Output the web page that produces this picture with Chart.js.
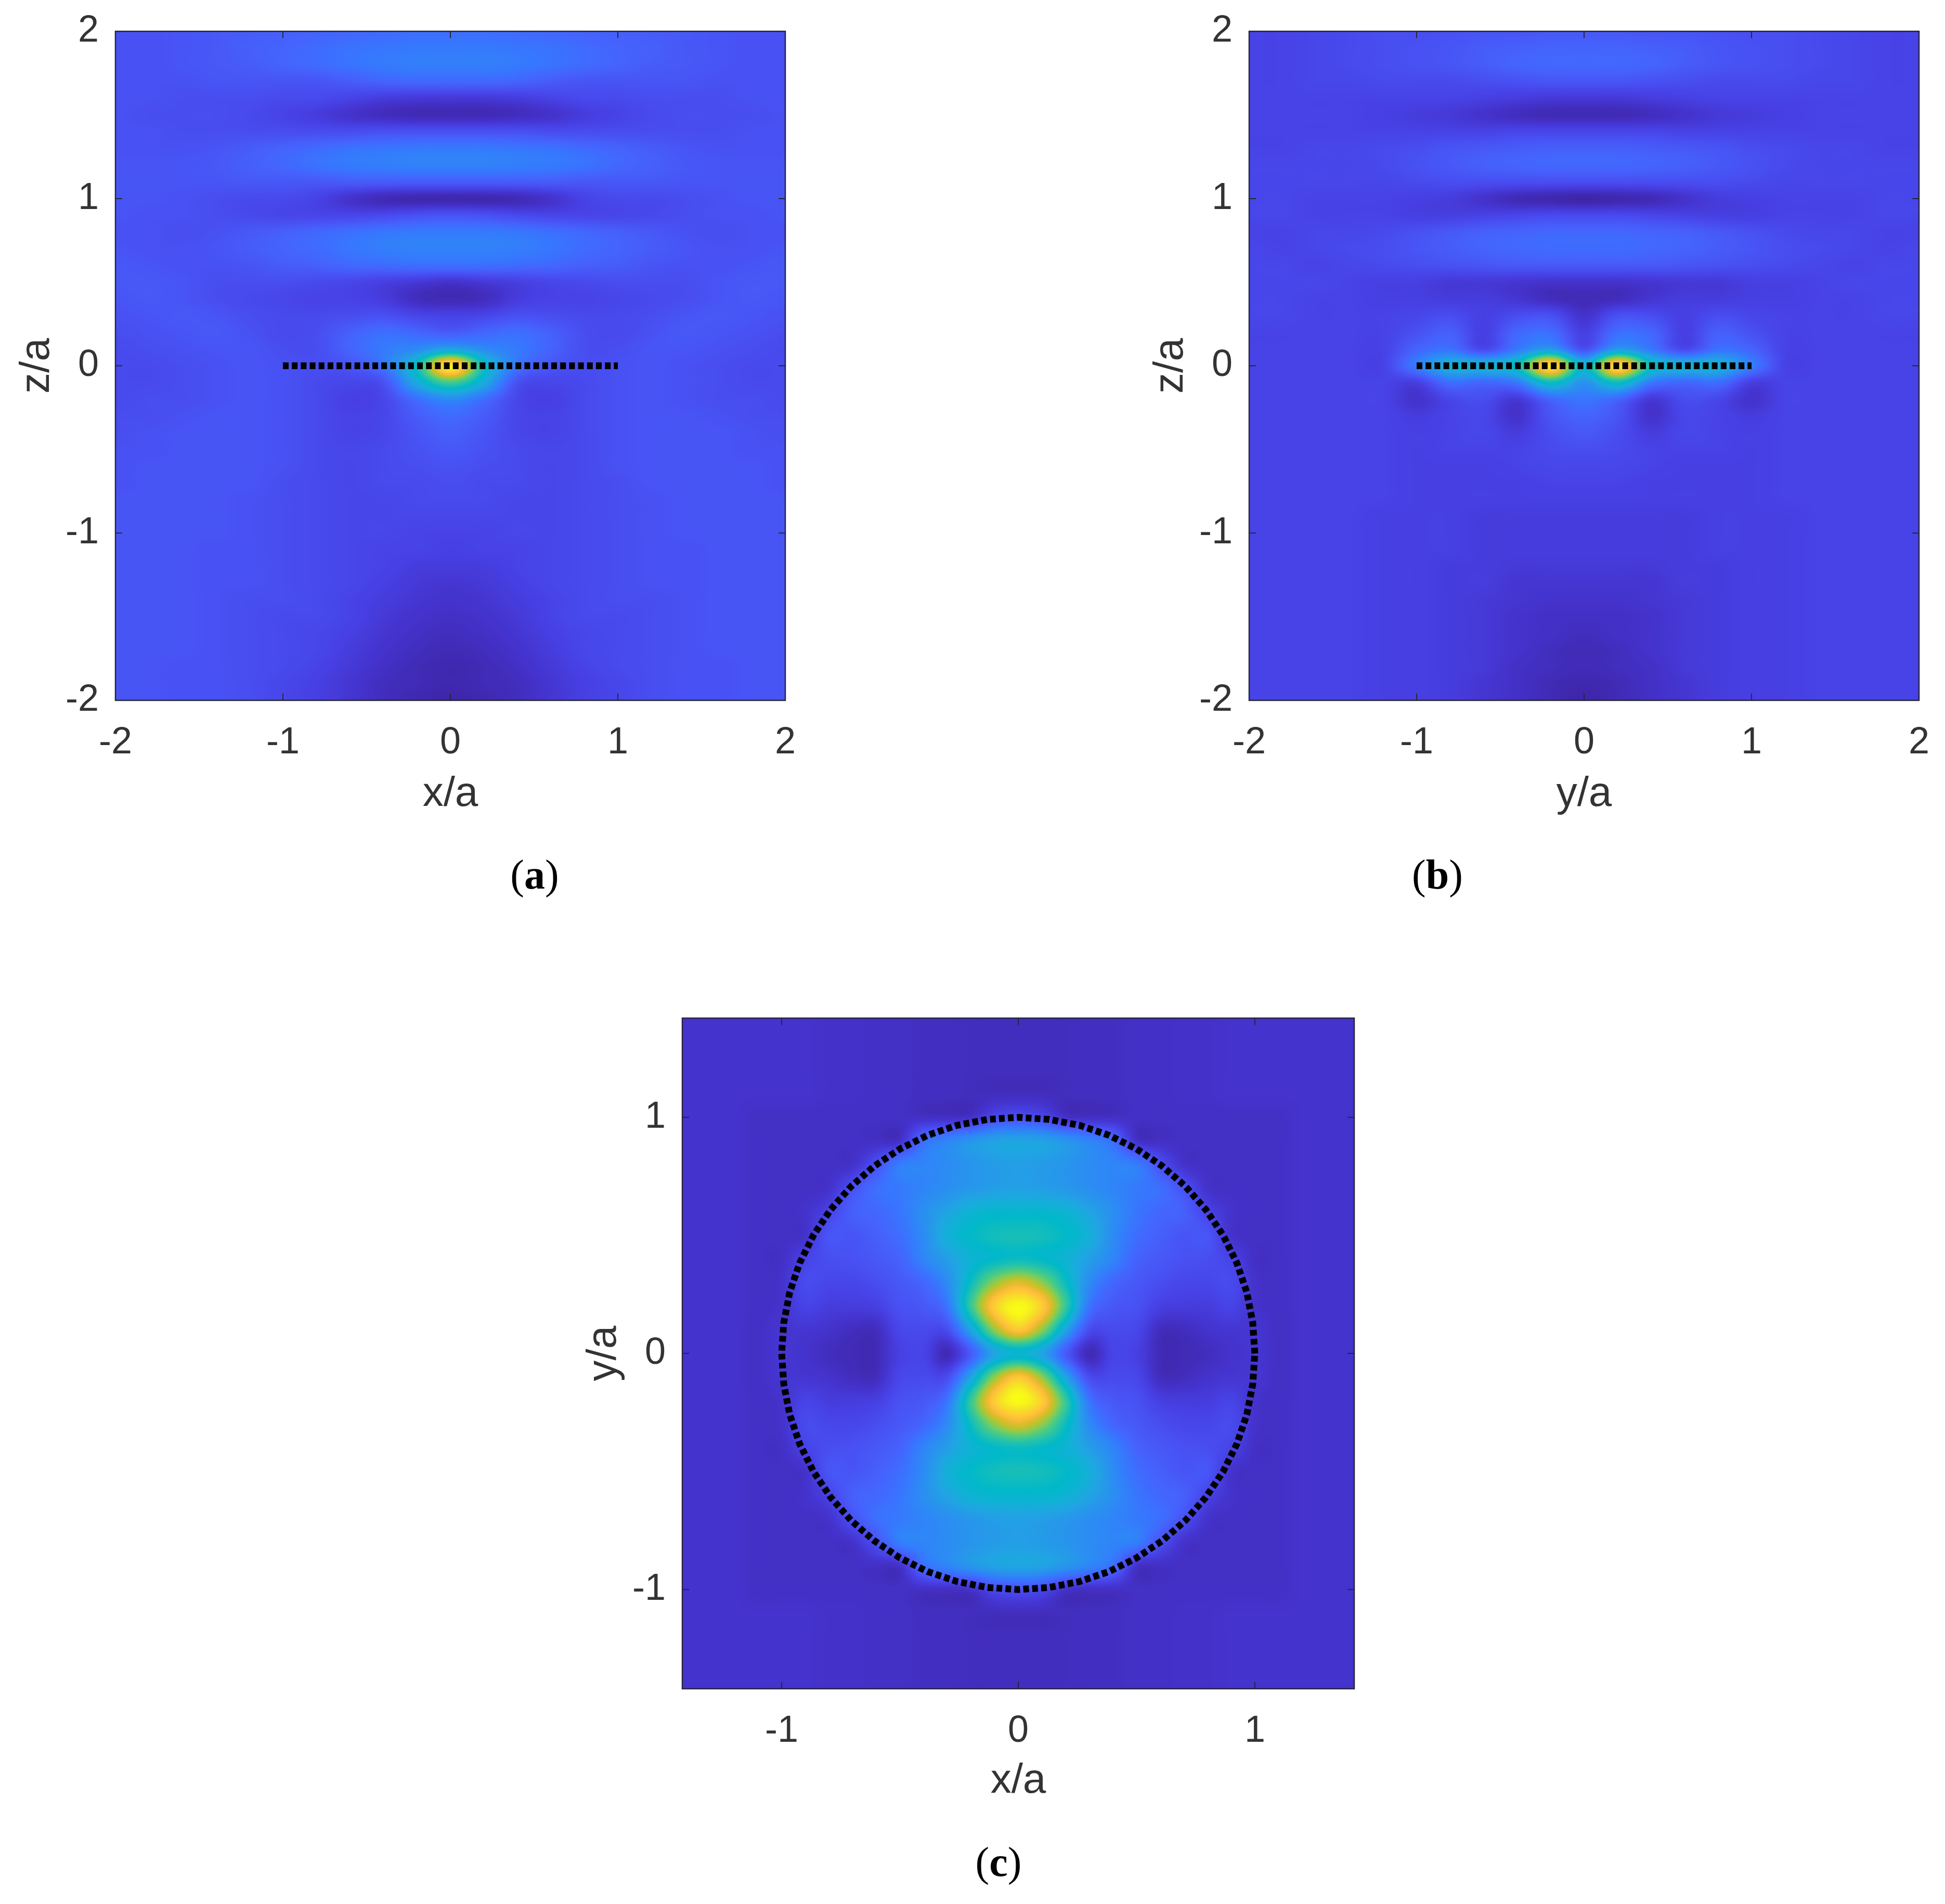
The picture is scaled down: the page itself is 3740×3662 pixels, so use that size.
<!DOCTYPE html>
<html>
<head>
<meta charset="utf-8">
<title>Field maps</title>
<script src="https://cdn.jsdelivr.net/npm/chart.js@4/dist/chart.umd.min.js"></script>
<style>
html,body{margin:0;padding:0;background:#fff;}
body{position:relative;width:3740px;height:3662px;overflow:hidden;}
canvas{position:absolute;}
.cap{position:absolute;transform:translate(-50%,-50%);font-family:"Liberation Serif",serif;font-size:80px;color:#000;white-space:nowrap;}
.cap b{font-weight:bold;}
</style>
</head>
<body>
<canvas id="chartA" style="left:0;top:-15px"></canvas>
<canvas id="chartB" style="left:2180px;top:-15px"></canvas>
<canvas id="chartC" style="left:1090px;top:1883px"></canvas>
<div class="cap" style="left:1028px;top:1682px">(<b>a</b>)</div>
<div class="cap" style="left:2764px;top:1682px">(<b>b</b>)</div>
<div class="cap" style="left:1920px;top:3581px">(<b>c</b>)</div>
<script>
// tick labels
const ticksAB = [-2,-1,0,1,2];
const ticksC = [-1,0,1];

// grid coordinates, a and b: step 0.2 across, 0.1 down
const colsAB = [-2,-1.8,-1.6,-1.4,-1.2,-1,-0.8,-0.6,-0.4,-0.2,0,0.2,0.4,0.6,0.8,1,1.2,1.4,1.6,1.8,2];
const rowsAB = [2,1.9,1.8,1.7,1.6,1.5,1.4,1.3,1.2,1.1,1,0.9,0.8,0.7,0.6,0.5,0.4,0.3,0.2,0.1,0,-0.1,-0.2,-0.3,-0.4,-0.5,-0.6,-0.7,-0.8,-0.9,-1,-1.1,-1.2,-1.3,-1.4,-1.5,-1.6,-1.7,-1.8,-1.9,-2];
const colsC = [-1.4,-1.3,-1.2,-1.1,-1,-0.9,-0.8,-0.7,-0.6,-0.5,-0.4,-0.3,-0.2,-0.1,0,0.1,0.2,0.3,0.4,0.5,0.6,0.7,0.8,0.9,1,1.1,1.2,1.3,1.4];
const rowsC = [1.4,1.3,1.2,1.1,1,0.9,0.8,0.7,0.6,0.5,0.4,0.3,0.2,0.1,0,-0.1,-0.2,-0.3,-0.4,-0.5,-0.6,-0.7,-0.8,-0.9,-1,-1.1,-1.2,-1.3,-1.4];

// field, percent of colour range
const fieldA = [
[14,14,15,16,17,18,19,20,21,22,22,22,21,20,19,18,17,16,15,14,14],
[14,14,15,16,18,19,21,23,24,25,25,25,24,23,21,19,18,16,15,14,14],
[14,14,15,16,17,19,21,23,25,26,26,26,25,23,21,19,17,16,15,14,14],
[14,14,14,15,15,15,15,17,19,20,20,20,19,17,15,15,15,15,14,14,14],
[14,14,13,13,13,12,12,10,8,7,7,7,8,10,12,12,13,13,13,14,14],
[14,13,13,13,12,10,8,5,3,2,2,2,3,5,8,10,12,13,13,13,14],
[14,14,13,13,13,13,13,13,14,14,14,14,14,13,13,13,13,13,13,14,14],
[14,14,14,15,17,19,21,23,24,25,25,25,24,23,21,19,17,15,14,14,14],
[15,15,15,16,18,20,23,25,26,27,27,27,26,25,23,20,18,16,15,15,15],
[15,15,15,15,16,16,16,17,17,17,17,17,17,17,16,16,16,15,15,15,15],
[15,15,14,13,12,12,10,5,2,1,1,1,2,5,10,12,12,13,14,15,15],
[15,14,14,13,12,11,11,11,12,14,15,14,12,11,11,11,12,13,14,14,15],
[14,14,13,14,16,18,20,22,24,25,25,25,24,22,20,18,16,14,13,14,14],
[15,14,14,15,17,19,21,24,26,27,27,27,26,24,21,19,17,15,14,14,15],
[16,15,14,14,15,17,18,20,21,22,22,22,21,20,18,17,15,14,14,15,16],
[16,16,15,13,13,13,12,11,9,7,5,7,9,11,12,13,13,13,15,16,16],
[15,16,15,13,12,11,10,10,8,3,2,3,8,10,10,11,12,13,15,16,15],
[14,15,16,15,13,12,12,13,14,11,10,11,14,13,12,12,13,15,16,15,14],
[13,14,15,16,14,12,13,18,22,20,17,20,22,18,13,12,14,16,15,14,13],
[12,13,14,15,15,13,13,19,25,30,38,30,25,19,13,13,15,15,14,13,12],
[12,12,13,14,15,14,13,15,24,50,98,50,24,15,13,14,15,14,13,12,12],
[12,12,13,14,15,14,12,11,14,40,60,40,14,11,12,14,15,14,13,12,12],
[12,13,13,14,15,14,12,9,11,22,30,22,11,9,12,14,15,14,13,13,12],
[13,13,14,15,15,14,12,10,11,17,21,17,11,10,12,14,15,15,14,13,13],
[13,14,15,15,15,14,12,10,11,15,18,15,11,10,12,14,15,15,15,14,13],
[14,14,15,15,15,14,12,11,12,14,16,14,12,11,12,14,15,15,15,14,14],
[14,15,15,15,15,14,12,11,12,13,14,13,12,11,12,14,15,15,15,15,14],
[14,15,15,15,15,13,12,11,12,12,13,12,12,11,12,13,15,15,15,15,14],
[15,15,15,15,14,13,12,11,11,12,12,12,11,11,12,13,14,15,15,15,15],
[15,15,15,15,14,13,12,11,11,11,11,11,11,11,12,13,14,15,15,15,15],
[15,15,15,15,14,13,12,11,11,10,10,10,11,11,12,13,14,15,15,15,15],
[15,15,15,14,14,13,12,11,10,10,9,10,10,11,12,13,14,14,15,15,15],
[15,15,15,14,14,13,12,11,10,8,8,8,10,11,12,13,14,14,15,15,15],
[15,15,15,14,14,13,12,11,9,7,6,7,9,11,12,13,14,14,15,15,15],
[15,15,15,14,13,13,12,10,8,6,5,6,8,10,12,13,13,14,15,15,15],
[15,15,15,14,13,12,12,10,7,5,4,5,7,10,12,12,13,14,15,15,15],
[15,15,15,14,13,12,11,9,6,4,3,4,6,9,11,12,13,14,15,15,15],
[15,15,15,14,13,12,11,8,5,3,2,3,5,8,11,12,13,14,15,15,15],
[15,15,14,14,13,12,10,7,4,2,1,2,4,7,10,12,13,14,14,15,15],
[15,15,14,14,13,11,9,6,3,2,1,2,3,6,9,11,13,14,14,15,15],
[15,15,14,14,13,11,9,6,3,1,0,1,3,6,9,11,13,14,14,15,15]
];

// field
const fieldB = [
[10,10,11,12,13,13,14,15,15,16,16,16,15,15,14,13,13,12,11,10,10],
[10,10,11,12,13,14,15,17,18,19,19,19,18,17,15,14,13,12,11,10,10],
[10,10,11,12,13,14,15,17,19,20,20,20,19,17,15,14,13,12,11,10,10],
[10,10,11,11,12,12,12,13,14,15,15,15,14,13,12,12,12,11,11,10,10],
[10,10,10,10,10,10,10,9,8,7,7,7,8,9,10,10,10,10,10,10,10],
[10,10,10,10,9,8,7,5,3,2,2,2,3,5,7,8,9,10,10,10,10],
[10,10,10,10,10,10,10,10,11,11,11,11,11,10,10,10,10,10,10,10,10],
[10,10,11,11,12,13,15,16,17,18,18,18,17,16,15,13,12,11,11,10,10],
[11,11,11,11,12,14,16,18,19,20,20,20,19,18,16,14,12,11,11,11,11],
[11,11,11,11,11,12,13,13,13,13,13,13,13,13,13,12,11,11,11,11,11],
[11,11,10,10,10,9,8,5,2,1,0,1,2,5,8,9,10,10,10,11,11],
[11,11,10,10,10,9,9,10,11,12,12,12,11,10,9,9,10,10,10,11,11],
[10,10,11,11,12,14,16,18,19,20,20,20,19,18,16,14,12,11,11,10,10],
[11,10,11,12,13,15,17,19,20,21,21,21,20,19,17,15,13,12,11,10,11],
[11,11,10,11,12,13,14,15,16,16,16,16,16,15,14,13,12,11,10,11,11],
[11,11,11,10,9,9,7,7,6,5,5,5,6,7,7,9,9,10,11,11,11],
[11,11,10,10,9,9,8,8,6,3,2,3,6,8,8,9,9,10,10,11,11],
[11,11,10,10,10,11,13,9,13,14,5,14,13,9,13,11,10,10,10,11,11],
[10,10,10,10,10,14,18,9,20,22,9,22,20,9,18,14,10,10,10,10,10],
[10,10,10,10,10,19,23,12,25,35,14,35,25,12,23,19,10,10,10,10,10],
[10,10,10,10,10,26,42,42,50,95,45,95,50,42,42,26,10,10,10,10,10],
[10,10,10,10,10,9,22,20,25,50,32,50,25,20,22,9,10,10,10,10,10],
[10,10,10,10,10,5,11,13,7,20,24,20,7,13,11,5,10,10,10,10,10],
[10,10,10,10,10,8,10,11,5,15,19,15,5,11,10,8,10,10,10,10,10],
[10,10,10,10,10,9,10,11,8,13,16,13,8,11,10,9,10,10,10,10,10],
[10,10,10,10,10,9,10,10,10,12,13,12,10,10,10,9,10,10,10,10,10],
[10,10,10,10,10,9,9,9,10,11,11,11,10,9,9,9,10,10,10,10,10],
[10,10,10,10,10,9,9,9,9,10,10,10,9,9,9,9,10,10,10,10,10],
[10,10,10,10,10,9,9,9,9,9,9,9,9,9,9,9,10,10,10,10,10],
[10,10,10,10,9,9,9,8,8,8,8,8,8,8,9,9,9,10,10,10,10],
[10,10,10,10,9,9,9,8,8,8,8,8,8,8,9,9,9,10,10,10,10],
[10,10,10,10,9,9,9,8,8,8,8,8,8,8,9,9,9,10,10,10,10],
[10,10,10,10,9,9,8,8,7,7,7,7,7,8,8,9,9,10,10,10,10],
[10,10,10,10,9,9,8,8,6,6,6,6,6,8,8,9,9,10,10,10,10],
[10,10,10,10,9,9,8,7,6,5,5,5,6,7,8,9,9,10,10,10,10],
[10,10,10,10,9,9,8,7,5,4,4,4,5,7,8,9,9,10,10,10,10],
[10,10,10,10,9,9,8,7,5,4,3,4,5,7,8,9,9,10,10,10,10],
[10,10,10,10,9,9,8,7,5,3,2,3,5,7,8,9,9,10,10,10,10],
[10,10,10,10,9,9,8,7,4,3,2,3,4,7,8,9,9,10,10,10,10],
[10,10,10,10,9,9,8,6,4,2,1,2,4,6,8,9,9,10,10,10,10],
[10,10,10,10,9,9,8,6,4,2,0,2,4,6,8,9,9,10,10,10,10]
];

// field
const fieldC = [
[5,5,5,5,5,5,4.5,4.5,4,4,3.5,3.5,3,3,3,3,3,3.5,3.5,4,4,4.5,4.5,5,5,5,5,5,5],
[5,5,5,5,5,5,4.5,4.5,4,4,3.5,3.5,3,3,3,3,3,3.5,3.5,4,4,4.5,4.5,5,5,5,5,5,5],
[5,5,5,5,5,5,4.5,4.5,4,4,3.5,3.5,3,3,3,3,3,3.5,3.5,4,4,4.5,4.5,5,5,5,5,5,5],
[5,5,5,5,5,5,4.5,4.5,4,4,3.5,3.5,3,3,3,3,3,3.5,3.5,4,4,4.5,4.5,5,5,5,5,5,5],
[5,5,5,4,4,4,4,4,4,4,4,4,5,12,14,12,5,4,4,4,4,4,4,4,4,4,5,5,5],
[5,5,5,4,4,4,4,4,4,5,22,28,33,37,38,37,33,28,22,5,4,4,4,4,4,4,5,5,5],
[5,5,5,4,4,4,4,5,14,26,28,30,33,35,36,35,33,30,28,26,14,5,4,4,4,4,5,5,5],
[5,5,5,4,4,4,5,14,22,25,28,31,34,36,37,36,34,31,28,25,22,14,5,4,4,4,5,5,5],
[5,5,5,4,4,5,10,18,20,24,31,38,44,46,46,46,44,38,31,24,20,18,10,5,4,4,5,5,5],
[5,5,5,4,4,5,15,15,18,22,30,42,48,51,52,51,48,42,30,22,18,15,15,5,4,4,5,5,5],
[5,5,5,4,4,10,13,14,16,19,28,36,44,48,50,48,44,36,28,19,16,14,13,10,4,4,5,5,5],
[5,5,5,4,5,12,11,11,13,16,20,30,50,70,80,70,50,30,20,16,13,11,11,12,5,4,5,5,5],
[5,5,5,4,5,10,8,8,9,14,16,24,58,90,100,90,58,24,16,14,9,8,8,10,5,4,5,5,5],
[5,5,5,4,6,6,5,3,3,11,12,13,38,70,88,70,38,13,12,11,3,3,5,6,6,4,5,5,5],
[5,5,5,4,6,5,3,2,2,9,10,2,17,38,45,38,17,2,10,9,2,2,3,5,6,4,5,5,5],
[5,5,5,4,6,6,5,3,3,11,12,13,38,70,88,70,38,13,12,11,3,3,5,6,6,4,5,5,5],
[5,5,5,4,5,10,8,8,9,14,16,24,58,90,100,90,58,24,16,14,9,8,8,10,5,4,5,5,5],
[5,5,5,4,5,12,11,11,13,16,20,30,50,70,80,70,50,30,20,16,13,11,11,12,5,4,5,5,5],
[5,5,5,4,4,10,13,14,16,19,28,36,44,48,50,48,44,36,28,19,16,14,13,10,4,4,5,5,5],
[5,5,5,4,4,5,15,15,18,22,30,42,48,51,52,51,48,42,30,22,18,15,15,5,4,4,5,5,5],
[5,5,5,4,4,5,10,18,20,24,31,38,44,46,46,46,44,38,31,24,20,18,10,5,4,4,5,5,5],
[5,5,5,4,4,4,5,14,22,25,28,31,34,36,37,36,34,31,28,25,22,14,5,4,4,4,5,5,5],
[5,5,5,4,4,4,4,5,14,26,28,30,33,35,36,35,33,30,28,26,14,5,4,4,4,4,5,5,5],
[5,5,5,4,4,4,4,4,4,5,22,28,33,37,38,37,33,28,22,5,4,4,4,4,4,4,5,5,5],
[5,5,5,4,4,4,4,4,4,4,4,4,5,12,14,12,5,4,4,4,4,4,4,4,4,4,5,5,5],
[5,5,5,5,5,5,4.5,4.5,4,4,3.5,3.5,3,3,3,3,3,3.5,3.5,4,4,4.5,4.5,5,5,5,5,5,5],
[5,5,5,5,5,5,4.5,4.5,4,4,3.5,3.5,3,3,3,3,3,3.5,3.5,4,4,4.5,4.5,5,5,5,5,5,5],
[5,5,5,5,5,5,4.5,4.5,4,4,3.5,3.5,3,3,3,3,3,3.5,3.5,4,4,4.5,4.5,5,5,5,5,5,5],
[5,5,5,5,5,5,4.5,4.5,4,4,3.5,3.5,3,3,3,3,3,3.5,3.5,4,4,4.5,4.5,5,5,5,5,5,5]
];

// dotted probe lines
const lineX = [-1,1];
const lineZ = [0,0];
const circleX = [1,0.991,0.966,0.924,0.866,0.793,0.707,0.609,0.5,0.383,0.259,0.131,0,-0.131,-0.259,-0.383,-0.5,-0.609,-0.707,-0.793,-0.866,-0.924,-0.966,-0.991,-1,-0.991,-0.966,-0.924,-0.866,-0.793,-0.707,-0.609,-0.5,-0.383,-0.259,-0.131,0,0.131,0.259,0.383,0.5,0.609,0.707,0.793,0.866,0.924,0.966,0.991,1];
const circleY = [0,0.131,0.259,0.383,0.5,0.609,0.707,0.793,0.866,0.924,0.966,0.991,1,0.991,0.966,0.924,0.866,0.793,0.707,0.609,0.5,0.383,0.259,0.131,0,-0.131,-0.259,-0.383,-0.5,-0.609,-0.707,-0.793,-0.866,-0.924,-0.966,-0.991,-1,-0.991,-0.966,-0.924,-0.866,-0.793,-0.707,-0.609,-0.5,-0.383,-0.259,-0.131,0];

// parula
const parula = [[62,38,168],[68,50,203],[71,65,229],[72,82,244],[69,99,253],[56,117,254],[46,135,247],[39,150,235],[32,165,227],[18,177,214],[1,184,202],[25,191,182],[49,198,159],[74,203,132],[114,205,100],[157,201,67],[197,194,42],[230,187,45],[254,190,60],[252,207,48],[245,227,39],[249,251,21]];

function colourAt(v){
  let p = Math.max(0,Math.min(1,v))*(parula.length-1);
  let i = Math.min(parula.length-2,Math.floor(p));
  let t = p-i;
  return [0,1,2].map(k=>parula[i][k]+(parula[i+1][k]-parula[i][k])*t);
}

function cubic(a,b,c,d,t){
  return b+0.5*t*(c-a+t*(2*a-5*b+4*c-d+t*(3*(b-c)+d-a)));
}

function sampleField(grid,fx,fy){
  let nr = grid.length, nc = grid[0].length;
  let ix = Math.floor(fx), iy = Math.floor(fy);
  let tx = fx-ix, ty = fy-iy;
  let vals = [];
  for(let r=-1;r<=2;r++){
    let row = grid[Math.max(0,Math.min(nr-1,iy+r))];
    vals.push(cubic(
      row[Math.max(0,Math.min(nc-1,ix-1))],
      row[Math.max(0,Math.min(nc-1,ix))],
      row[Math.max(0,Math.min(nc-1,ix+1))],
      row[Math.max(0,Math.min(nc-1,ix+2))],tx));
  }
  return cubic(vals[0],vals[1],vals[2],vals[3],ty)/100;
}

// paints the field under the datasets, pixel by pixel through the scales
const heatPlugin = {
  id:"heat",
  beforeDatasetsDraw(chart,args,opts){
    let area = chart.chartArea;
    let sx = chart.scales.x, sy = chart.scales.y;
    let w = Math.round(area.right-area.left), h = Math.round(area.bottom-area.top);
    let off = document.createElement("canvas");
    off.width = w; off.height = h;
    let octx = off.getContext("2d");
    let img = octx.createImageData(w,h);
    let cols = opts.cols, rows = opts.rows, grid = opts.grid;
    let dx = cols[1]-cols[0], dy = rows[1]-rows[0];
    for(let j=0;j<h;j++){
      let fy = (sy.getValueForPixel(area.top+j+0.5)-rows[0])/dy;
      for(let i=0;i<w;i++){
        let fx = (sx.getValueForPixel(area.left+i+0.5)-cols[0])/dx;
        let c = colourAt(sampleField(grid,fx,fy));
        let o = (j*w+i)*4;
        img.data[o]=c[0]; img.data[o+1]=c[1]; img.data[o+2]=c[2]; img.data[o+3]=255;
      }
    }
    octx.putImageData(img,0,0);
    chart.ctx.drawImage(off,area.left,area.top);
  }
};

// box and inward ticks on all four sides
const framePlugin = {
  id:"frame",
  afterDatasetsDraw(chart){
    let ctx = chart.ctx, a = chart.chartArea;
    let tl = 13;
    ctx.save();
    ctx.strokeStyle = "#262640";
    ctx.lineWidth = 2.5;
    ctx.strokeRect(a.left,a.top,a.right-a.left,a.bottom-a.top);
    ctx.lineWidth = 2;
    ctx.beginPath();
    chart.scales.x.ticks.forEach(t=>{
      let p = chart.scales.x.getPixelForValue(t.value);
      ctx.moveTo(p,a.bottom); ctx.lineTo(p,a.bottom-tl);
      ctx.moveTo(p,a.top); ctx.lineTo(p,a.top+tl);
    });
    chart.scales.y.ticks.forEach(t=>{
      let p = chart.scales.y.getPixelForValue(t.value);
      ctx.moveTo(a.left,p); ctx.lineTo(a.left+tl,p);
      ctx.moveTo(a.right,p); ctx.lineTo(a.right-tl,p);
    });
    ctx.stroke();
    ctx.restore();
  }
};

function axis(pos,lim,tickVals,label,extra){
  return Object.assign({
    type:"linear",
    position:pos,
    min:-lim,
    max:lim,
    afterBuildTicks:(s)=>{ s.ticks = tickVals.map(v=>({value:v})); },
    grid:{display:false,drawTicks:false},
    border:{display:false},
    ticks:{
      autoSkip:false,
      maxRotation:0,
      color:"#333333",
      font:{family:"Liberation Sans",size:72},
      padding:pos==="left"?32:39,
      callback:(v)=>String(v)
    },
    title:{
      display:true,
      text:label,
      color:"#333333",
      font:{family:"Liberation Sans",size:80},
      padding:pos==="left"?{top:24,bottom:0}:{top:0,bottom:44}
    }
  },extra);
}

function makePanel(id,w,h,o){
  let el = document.getElementById(id);
  el.width = w; el.height = h;
  el.style.width = w+"px"; el.style.height = h+"px";
  let heatData = [];
  o.rows.forEach((z,r)=>o.cols.forEach((x,c)=>heatData.push({x:x,y:z,v:o.grid[r][c]})));
  return new Chart(el,{
    type:"scatter",
    data:{
      datasets:[{
        label:"field",
        data:heatData,
        pointRadius:0,
        showLine:false
      },{
        label:"probe",
        data:o.lineX.map((x,i)=>({x:x,y:o.lineY[i]})),
        showLine:true,
        pointRadius:0,
        borderColor:"#000",
        borderWidth:13,
        borderDash:[11,6.2],
        borderCapStyle:"butt",
        tension:0
      }]
    },
    options:{
      responsive:false,
      animation:false,
      devicePixelRatio:1,
      events:[],
      layout:{padding:{left:0,top:0,right:o.right,bottom:0}},
      plugins:{
        legend:{display:false},
        tooltip:{enabled:false},
        heat:{cols:o.cols,rows:o.rows,grid:o.grid}
      },
      scales:{
        x:axis("bottom",o.lim,o.ticks,o.xLabel,{afterFit:(s)=>{s.height=o.xh;}}),
        y:axis("left",o.lim,o.ticks,o.yLabel,{afterFit:(s)=>{s.width=222;}})
      }
    },
    plugins:[heatPlugin,framePlugin]
  });
}

makePanel("chartA",1600,1635,{cols:colsAB,rows:rowsAB,grid:fieldA,lineX:lineX,lineY:lineZ,lim:2,ticks:ticksAB,xLabel:"x/a",yLabel:"z/a",right:90,xh:273});
makePanel("chartB",1600,1635,{cols:colsAB,rows:rowsAB,grid:fieldB,lineX:lineX,lineY:lineZ,lim:2,ticks:ticksAB,xLabel:"y/a",yLabel:"z/a",right:90,xh:273});
makePanel("chartC",1600,1635,{cols:colsC,rows:rowsC,grid:fieldC,lineX:circleX,lineY:circleY,lim:1.42,ticks:ticksC,xLabel:"x/a",yLabel:"y/a",right:86,xh:270});
</script>
</body>
</html>
